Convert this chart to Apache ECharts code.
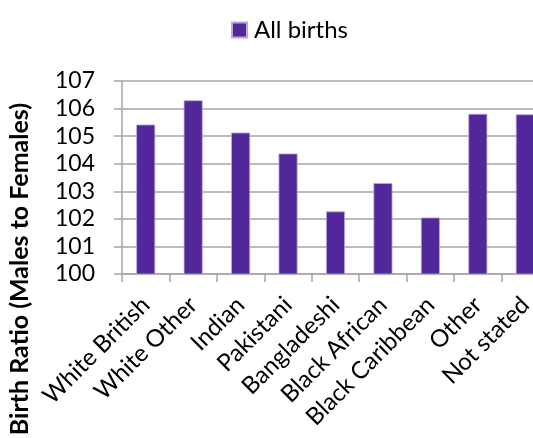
<!DOCTYPE html>
<html>
<head>
<meta charset="utf-8">
<script src="https://cdn.jsdelivr.net/npm/echarts@6/dist/echarts.min.js"></script>
<style>
  html, body { margin: 0; padding: 0; background: #ffffff; }
  #chart { width: 533px; height: 438px; }
</style>
</head>
<body>
<div id="chart"></div>
<script>
// Birth ratio (males per 100 females) by ethnic group of the mother
var categories = ['White British', 'White Other', 'Indian', 'Pakistani', 'Bangladeshi',
                  'Black African', 'Black Caribbean', 'Other', 'Not stated'];
var allBirths = [105.42, 106.30, 105.13, 104.37, 102.27, 103.30, 102.05, 105.81, 105.79];
var seriesName = 'All births';
var yTitle = 'Birth Ratio (Males to Females)';

var FONT = 'Lato, "Open Sans", sans-serif';
var GRID = '#a6a6a6';

var chart = echarts.init(document.getElementById('chart'), null, { renderer: 'canvas' });
chart.setOption({
  animation: false,
  backgroundColor: '#ffffff',
  textStyle: { fontFamily: FONT },
  legend: {
    data: [seriesName],
    left: 226,
    top: 13,
    itemWidth: 15,
    itemHeight: 15,
    itemGap: 6,
    icon: 'rect',
    textStyle: { fontFamily: FONT, fontSize: 24, color: '#000000', padding: [0, 0, 0, 2] }
  },
  grid: { left: 122, right: -16, top: 81, bottom: 164, containLabel: false, outerBoundsMode: 'none' },
  xAxis: {
    type: 'category',
    data: categories,
    axisLine: { lineStyle: { color: GRID, width: 1.5 } },
    axisTick: { show: true, length: 8, lineStyle: { color: GRID, width: 1.5 } },
    axisLabel: {
      rotate: 45,
      interval: 0,
      margin: 27,
      fontFamily: FONT,
      fontSize: 24,
      color: '#000000'
    }
  },
  yAxis: {
    type: 'value',
    min: 100,
    max: 107,
    interval: 1,
    axisLine: { show: true, lineStyle: { color: GRID, width: 1.5 } },
    axisTick: { show: true, length: 8, lineStyle: { color: GRID, width: 1.5 } },
    axisLabel: { margin: 27, fontFamily: FONT, fontSize: 23, color: '#000000' },
    splitLine: { show: true, lineStyle: { color: GRID, width: 1.5 } }
  },
  graphic: [{
    type: 'text',
    x: 20,
    y: 269,
    rotation: Math.PI / 2,
    style: {
      text: yTitle,
      font: 'bold 25px ' + FONT,
      fill: '#000000',
      align: 'center',
      verticalAlign: 'middle'
    }
  }],
  series: [{
    name: seriesName,
    type: 'bar',
    data: allBirths,
    barWidth: 19,
    itemStyle: { color: '#51279a', borderColor: '#b9a9dc', borderWidth: 0.8 }
  }]
});
</script>
</body>
</html>
